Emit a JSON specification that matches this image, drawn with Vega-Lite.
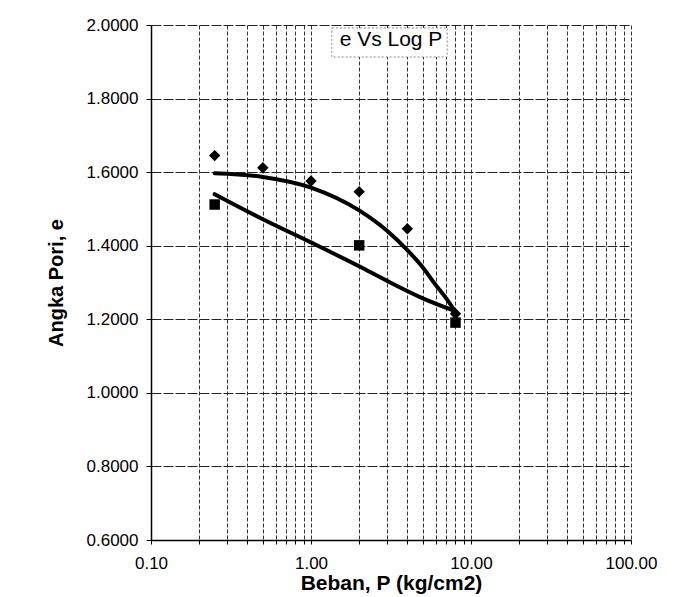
{
  "$schema": "https://vega.github.io/schema/vega-lite/v6.json",
  "width": 480,
  "height": 515,
  "autosize": "none",
  "padding": {"left": 151, "top": 25, "right": 45, "bottom": 57},
  "background": "white",
  "config": {
    "view": {"stroke": null},
    "font": "Liberation Sans"
  },
  "title": {
    "text": "e Vs Log P",
    "anchor": "middle",
    "frame": "group",
    "orient": "top",
    "offset": -34,
    "fontSize": 21,
    "fontWeight": "normal",
    "font": "Liberation Sans",
    "color": "black"
  },
  "datasets": {
    "points": [
      {"series": "diamond", "P": 0.25, "e": 1.645},
      {"series": "diamond", "P": 0.5, "e": 1.612},
      {"series": "diamond", "P": 1, "e": 1.576},
      {"series": "diamond", "P": 2, "e": 1.547},
      {"series": "diamond", "P": 4, "e": 1.446},
      {"series": "diamond", "P": 8, "e": 1.215},
      {"series": "square", "P": 0.25, "e": 1.512},
      {"series": "square", "P": 2, "e": 1.401},
      {"series": "square", "P": 8, "e": 1.191}
    ],
    "trends": [
      {"curve": "upper", "P": 0.25, "e": 1.597},
      {"curve": "upper", "P": 0.5, "e": 1.587},
      {"curve": "upper", "P": 1, "e": 1.558},
      {"curve": "upper", "P": 2, "e": 1.496},
      {"curve": "upper", "P": 3, "e": 1.44},
      {"curve": "upper", "P": 4, "e": 1.388},
      {"curve": "upper", "P": 5, "e": 1.341},
      {"curve": "upper", "P": 6, "e": 1.294},
      {"curve": "upper", "P": 7, "e": 1.257},
      {"curve": "upper", "P": 8, "e": 1.22},
      {"curve": "lower", "P": 0.25, "e": 1.54},
      {"curve": "lower", "P": 0.5, "e": 1.472},
      {"curve": "lower", "P": 1, "e": 1.409},
      {"curve": "lower", "P": 2, "e": 1.344},
      {"curve": "lower", "P": 3, "e": 1.304},
      {"curve": "lower", "P": 5, "e": 1.257},
      {"curve": "lower", "P": 8, "e": 1.222}
    ],
    "titlebox": [
      {"label": "e Vs Log P"}
    ]
  },
  "layer": [
    {
      "data": {"name": "titlebox"},
      "mark": {"type": "rect", "fill": "white", "stroke": "#888888", "strokeWidth": 1, "strokeDash": [2, 2]},
      "encoding": {
        "x": {"datum": 1.35, "type": "quantitative", "scale": {"type": "log", "domain": [0.1, 100], "nice": false}},
        "x2": {"datum": 7.1},
        "y": {"datum": 1.992, "type": "quantitative", "scale": {"domain": [0.6, 2.0], "nice": false, "zero": false}},
        "y2": {"datum": 1.913}
      }
    },
    {
      "data": {"name": "trends"},
      "mark": {"type": "line", "interpolate": "monotone", "color": "black", "strokeWidth": 4, "strokeCap": "round"},
      "encoding": {
        "x": {
          "field": "P",
          "type": "quantitative",
          "scale": {"type": "log", "domain": [0.1, 100], "nice": false},
          "axis": {
            "title": "Beban, P (kg/cm2)",
            "titleFontSize": 21,
            "titleFontWeight": "bold",
            "titleColor": "black",
            "titlePadding": 1,
            "values": [0.1, 0.2, 0.3, 0.4, 0.5, 0.6, 0.7, 0.8, 0.9, 1, 2, 3, 4, 5, 6, 7, 8, 9, 10, 20, 30, 40, 50, 60, 70, 80, 90, 100],
            "labelExpr": "abs(log(datum.value)/LN10 - round(log(datum.value)/LN10)) < 0.000001 ? format(datum.value, '.2f') : ''",
            "labelFontSize": 17,
            "labelColor": "black",
            "labelPadding": 11,
            "labelFlush": false,
            "labelOverlap": false,
            "tickSize": 4,
            "tickColor": "black",
            "domainColor": "black",
            "domainWidth": 1.5,
            "grid": true,
            "gridColor": "#333333",
            "gridDash": [4, 2],
            "gridWidth": 1,
            "zindex": 0
          }
        },
        "y": {
          "field": "e",
          "type": "quantitative",
          "scale": {"domain": [0.6, 2.0], "nice": false, "zero": false},
          "axis": {
            "title": "Angka Pori, e",
            "titleFontSize": 20,
            "titleFontWeight": "bold",
            "titleColor": "black",
            "titlePadding": 20,
            "values": [0.6, 0.8, 1.0, 1.2, 1.4, 1.6, 1.8, 2.0],
            "format": ".4f",
            "labelFontSize": 17,
            "labelColor": "black",
            "labelPadding": 8,
            "tickSize": 5,
            "tickColor": "black",
            "domainColor": "black",
            "domainWidth": 1.5,
            "grid": true,
            "gridColor": "#222222",
            "gridDash": [10, 2],
            "gridWidth": 1,
            "zindex": 0
          }
        },
        "detail": {"field": "curve", "type": "nominal"}
      }
    },
    {
      "data": {"name": "points"},
      "mark": {"type": "point", "filled": true, "opacity": 1, "color": "black"},
      "encoding": {
        "x": {"field": "P", "type": "quantitative"},
        "y": {"field": "e", "type": "quantitative"},
        "shape": {
          "field": "series",
          "type": "nominal",
          "scale": {"domain": ["diamond", "square"], "range": ["diamond", "square"]},
          "legend": null
        },
        "size": {
          "field": "series",
          "type": "nominal",
          "scale": {"domain": ["diamond", "square"], "range": [130, 110]},
          "legend": null
        }
      }
    }
  ]
}
